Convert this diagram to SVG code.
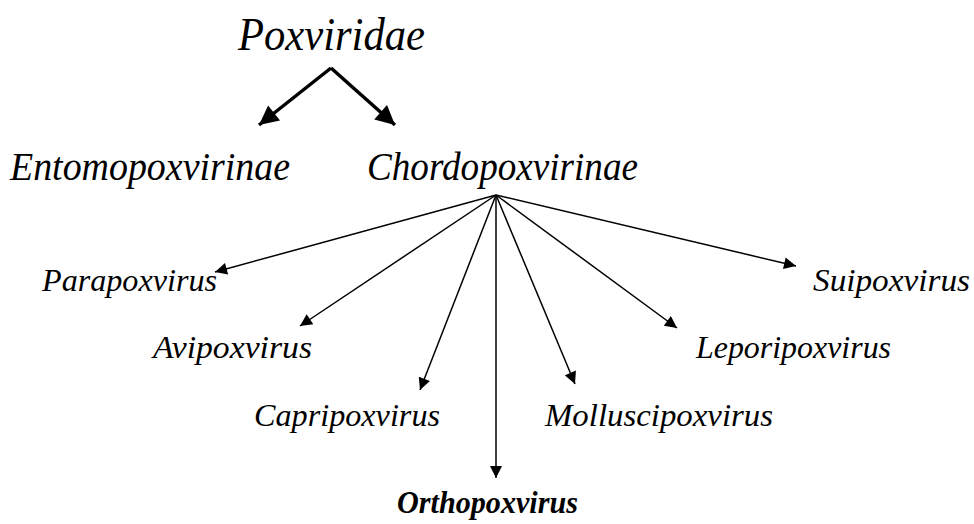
<svg xmlns="http://www.w3.org/2000/svg" width="974" height="524" viewBox="0 0 974 524">
<style>
text{font-family:"Liberation Serif","DejaVu Serif",serif;font-style:italic;fill:#000}
.t1{font-size:46px}
.t2{font-size:40px}
.t3{font-size:32px}
.b{font-weight:bold}
.thick{stroke:#000;stroke-width:3.5;fill:none}
.thin{stroke:#000;stroke-width:1.5;fill:none}
</style>
<defs>
<marker id="big" viewBox="0 0 10 10" refX="10" refY="5" markerWidth="6" markerHeight="5.5" markerUnits="strokeWidth" orient="auto"><path d="M0,0L10,5L0,10z" fill="#000"/></marker>
<marker id="sm" viewBox="0 0 10 10" refX="10" refY="5" markerWidth="9" markerHeight="8" markerUnits="strokeWidth" orient="auto"><path d="M0,0L10,5L0,10z" fill="#000"/></marker>
</defs>
<rect width="974" height="524" fill="#fff"/>
<g id="connectors">
<path class="thick" d="M331,68L395,125" marker-end="url(#big)"/>
<path class="thick" d="M331,68L259,125" marker-end="url(#big)"/>
<line class="thin" x1="496" y1="195" x2="215" y2="272" marker-end="url(#sm)"/>
<line class="thin" x1="496" y1="195" x2="300" y2="326" marker-end="url(#sm)"/>
<line class="thin" x1="496" y1="195" x2="420" y2="390" marker-end="url(#sm)"/>
<line class="thin" x1="496" y1="195" x2="496" y2="478" marker-end="url(#sm)"/>
<line class="thin" x1="496" y1="195" x2="575" y2="384" marker-end="url(#sm)"/>
<line class="thin" x1="496" y1="195" x2="677" y2="328" marker-end="url(#sm)"/>
<line class="thin" x1="496" y1="195" x2="796" y2="266" marker-end="url(#sm)"/>
</g>
<g id="poxviridae"><text class="t1" x="238" y="50" textLength="187" lengthAdjust="spacingAndGlyphs">Poxviridae</text></g>
<g id="entomopoxvirinae"><text class="t2" x="10" y="180" textLength="280" lengthAdjust="spacingAndGlyphs">Entomopoxvirinae</text></g>
<g id="chordopoxvirinae"><text class="t2" x="367" y="180" textLength="271" lengthAdjust="spacingAndGlyphs">Chordopoxvirinae</text></g>
<g id="parapoxvirus"><text class="t3" x="42" y="291" textLength="175" lengthAdjust="spacingAndGlyphs">Parapoxvirus</text></g>
<g id="avipoxvirus"><text class="t3" x="153" y="358" textLength="159" lengthAdjust="spacingAndGlyphs">Avipoxvirus</text></g>
<g id="capripoxvirus"><text class="t3" x="254" y="426" textLength="186" lengthAdjust="spacingAndGlyphs">Capripoxvirus</text></g>
<g id="orthopoxvirus"><text class="t3 b" x="397" y="513" textLength="181" lengthAdjust="spacingAndGlyphs">Orthopoxvirus</text></g>
<g id="molluscipoxvirus"><text class="t3" x="545" y="426" textLength="228" lengthAdjust="spacingAndGlyphs">Molluscipoxvirus</text></g>
<g id="leporipoxvirus"><text class="t3" x="696" y="358" textLength="195" lengthAdjust="spacingAndGlyphs">Leporipoxvirus</text></g>
<g id="suipoxvirus"><text class="t3" x="813" y="291" textLength="157" lengthAdjust="spacingAndGlyphs">Suipoxvirus</text></g>
</svg>
